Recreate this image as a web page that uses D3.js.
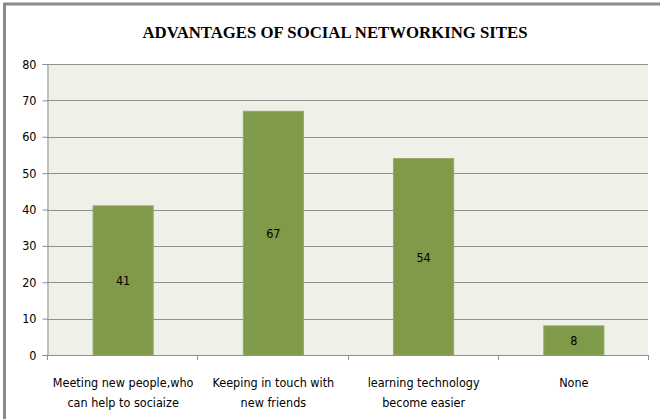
<!DOCTYPE html>
<html>
<head>
<meta charset="utf-8">
<script src="https://cdn.jsdelivr.net/npm/d3@7"></script>
<style>
  body { margin: 0; background: #fff; }
  svg { display: block; }
</style>
</head>
<body>
<div id="content"></div>
<script>
// chart data
const categories = [
  ["Meeting new people,who", "can help to sociaize"],
  ["Keeping in touch with", "new friends"],
  ["learning technology", "become easier"],
  ["None"]
];
const values = [41, 67, 54, 8];
const yTicks = [0, 10, 20, 30, 40, 50, 60, 70, 80];
const title = "ADVANTAGES OF SOCIAL NETWORKING SITES";

const W = 660, H = 419;
const m = {left: 47, right: 10, top: 64, bottom: 64};
const font = "'DejaVu Sans Condensed', 'DejaVu Sans', sans-serif";

const svg = d3.select("#content").append("svg")
    .attr("width", W)
    .attr("height", H);

// outer frame
svg.append("rect")
    .attr("x", 4.5).attr("y", 4)
    .attr("width", W + 10).attr("height", H + 10)
    .style("fill", "#fff")
    .style("stroke", "#8a8a8a")
    .style("stroke-width", 3);

svg.append("text")
    .attr("x", 335).attr("y", 38)
    .attr("text-anchor", "middle")
    .attr("textLength", 385)
    .attr("lengthAdjust", "spacingAndGlyphs")
    .style("font-family", "'Liberation Serif', 'Times New Roman', serif")
    .style("font-weight", "bold")
    .style("font-size", "17px")
    .style("fill", "#000")
    .text(title);

let x = d3.scaleBand()
    .domain(d3.range(categories.length))
    .range([m.left, W - m.right - 2])
    .paddingInner(0.6)
    .paddingOuter(0.3);

let y = d3.scaleLinear()
    .domain([0, 80])
    .range([355, m.top]);

// plot background
svg.append("rect")
    .attr("x", m.left).attr("y", y(80))
    .attr("width", x.range()[1] - m.left)
    .attr("height", y(0) - y(80))
    .style("fill", "#eff1e9");

// gridlines
svg.append("g").selectAll("line")
    .data(yTicks.filter(d => d > 0))
    .enter().append("line")
    .attr("x1", m.left).attr("x2", x.range()[1])
    .attr("y1", d => Math.round(y(d)) + 0.5)
    .attr("y2", d => Math.round(y(d)) + 0.5)
    .style("stroke", "#8f8f8f")
    .style("stroke-width", 1);

// bars
let bars = svg.append("g").selectAll("g")
    .data(values)
    .enter().append("g");

bars.append("rect")
    .attr("x", (d, i) => x(i) + 1)
    .attr("y", d => y(d))
    .attr("width", x.bandwidth())
    .attr("height", d => y(0) - y(d))
    .style("fill", "#7f9a48")
    .style("stroke", "#93a865")
    .style("stroke-width", 1);

bars.append("text")
    .attr("x", (d, i) => x(i) + 1 + x.bandwidth() / 2)
    .attr("y", d => y(d / 2) + 5)
    .attr("text-anchor", "middle")
    .style("font-family", font)
    .style("font-size", "12.5px")
    .style("fill", "#000")
    .text(d => d);

// y axis
let yAxis = svg.append("g")
    .attr("transform", `translate(${m.left + 0.5},0)`)
    .call(d3.axisLeft(y).tickValues(yTicks).tickSize(5).tickPadding(6));
yAxis.select(".domain").style("stroke", "#8f8f8f");
yAxis.selectAll(".tick line").style("stroke", "#8f8f8f");
yAxis.selectAll("text")
    .style("font-family", font)
    .style("font-size", "12.5px")
    .style("fill", "#000");

// x axis line and tick marks at band edges
let edges = d3.range(categories.length + 1)
    .map(i => x.range()[0] + i * (x.range()[1] - x.range()[0]) / categories.length);
svg.append("line")
    .attr("x1", m.left).attr("x2", x.range()[1])
    .attr("y1", Math.round(y(0)) + 0.5).attr("y2", Math.round(y(0)) + 0.5)
    .style("stroke", "#8f8f8f");
svg.append("g").selectAll("line")
    .data(edges)
    .enter().append("line")
    .attr("x1", d => Math.round(d) + 0.5).attr("x2", d => Math.round(d) + 0.5)
    .attr("y1", y(0)).attr("y2", y(0) + 5)
    .style("stroke", "#8f8f8f");

// category labels
let labels = svg.append("g").selectAll("text")
    .data(categories)
    .enter().append("text")
    .attr("transform", (d, i) => `translate(${x(i) + 1 + x.bandwidth() / 2},387)`)
    .attr("text-anchor", "middle")
    .style("font-family", font)
    .style("font-size", "12.5px")
    .style("fill", "#000");

labels.selectAll("tspan")
    .data(d => d)
    .enter().append("tspan")
    .attr("x", 0)
    .attr("dy", (d, i) => i ? 20 : 0)
    .text(d => d);
</script>
</body>
</html>
